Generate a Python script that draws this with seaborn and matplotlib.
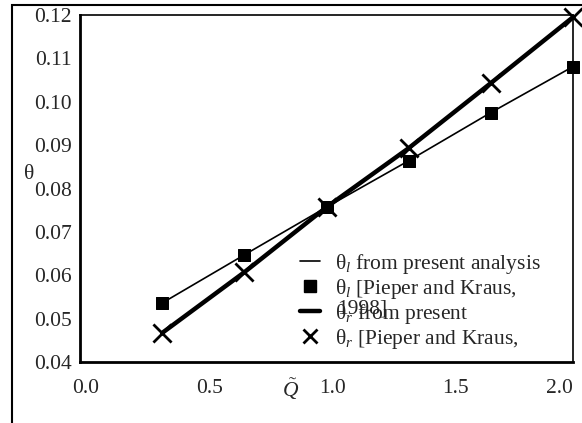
import matplotlib
matplotlib.use("Agg")
import matplotlib.pyplot as plt
import matplotlib.transforms as mtransforms
import seaborn as sns
import pandas as pd
from matplotlib.lines import Line2D
from matplotlib.patches import Rectangle

q_values = [1/3, 2/3, 1.0, 4/3, 5/3, 2.0]
theta_l_model = [0.0536, 0.0647, 0.0757, 0.0864, 0.0975, 0.1081]
theta_l_pieper = [0.0536, 0.0647, 0.0757, 0.0863, 0.0974, 0.1080]
theta_r_model = [0.0467, 0.0607, 0.0757, 0.0893, 0.1043, 0.1195]
theta_r_pieper = [0.0467, 0.0607, 0.0757, 0.0893, 0.1043, 0.1195]
x_ticks = [0.0, 0.5, 1.0, 1.5, 2.0]
y_ticks = [0.04, 0.05, 0.06, 0.07, 0.08, 0.09, 0.10, 0.11, 0.12]
labels = [r"θ$_{l}$ from present analysis",
          r"θ$_{l}$ [Pieper and Kraus,",
          r"θ$_{r}$ from present",
          r"θ$_{r}$ [Pieper and Kraus,"]

FS = 15.5

sns.set_style("white")
plt.rcParams["font.family"] = ["Liberation Serif", "DejaVu Serif"]
plt.rcParams["mathtext.fontset"] = "custom"
plt.rcParams["mathtext.rm"] = "Liberation Serif"
plt.rcParams["mathtext.it"] = "Liberation Serif:italic"

df = pd.DataFrame({"Q": q_values, "tl": theta_l_model, "tlp": theta_l_pieper,
                   "tr": theta_r_model, "trp": theta_r_pieper})

fig = plt.figure(figsize=(5.82, 4.23), dpi=100)
ax = fig.add_axes([80/582, 1-362/423, (573-80)/582, (362-15)/423])

sns.lineplot(data=df, x="Q", y="tl", ax=ax, color="black", lw=1.2)
sns.lineplot(data=df, x="Q", y="tr", ax=ax, color="black", lw=3.2)
sns.scatterplot(data=df, x="Q", y="tlp", ax=ax, marker="s", s=80, color="black",
                edgecolor="black", clip_on=False, zorder=5)
sns.scatterplot(data=df, x="Q", y="trp", ax=ax, marker="x", s=170, color="black",
                linewidth=2.0, clip_on=False, zorder=5)

ax.set_xlim(0, 2.0)
ax.set_ylim(0.04, 0.12)
ax.set_xticks(x_ticks)
ax.set_xticklabels([f"{v:.1f}" for v in x_ticks], fontsize=FS)
ax.set_yticks(y_ticks)
ax.set_yticklabels([f"{v:.2f}" for v in y_ticks], fontsize=FS)
ax.tick_params(axis="y", direction="out", length=4, width=1.5, pad=2)
ax.tick_params(axis="x", direction="in", length=4, width=1.5, pad=12)

shift = mtransforms.ScaledTranslation(6/100, 0, fig.dpi_scale_trans)
xlabels = ax.get_xticklabels()
for lab in xlabels[:-1]:
    lab.set_transform(lab.get_transform() + shift)
xlabels[-1].set_ha("right")

ax.set_xlabel(r"$\tilde{Q}$", fontsize=FS)
ax.xaxis.set_label_coords(0.428, -0.078)
ax.xaxis.label.set_va("center")
ax.set_ylabel("θ", fontsize=FS, rotation=0)
ax.yaxis.set_label_coords(-0.103, 0.54)
ax.yaxis.label.set_va("center")

for side in ["left", "bottom"]:
    ax.spines[side].set_linewidth(2.0)
for side in ["top", "right"]:
    ax.spines[side].set_linewidth(1.2)
for sp in ax.spines.values():
    sp.set_color("black")

handles = [Line2D([], [], color="black", lw=1.2),
           Line2D([], [], color="black", marker="s", ls="none", markersize=8),
           Line2D([], [], color="black", lw=3.2),
           Line2D([], [], color="black", marker="x", ls="none", markersize=10, mew=2)]
leg = ax.legend(handles, labels, loc="upper left", bbox_to_anchor=(0.446, 0.318),
                frameon=False, fontsize=FS, handlelength=0.93, handletextpad=0.7,
                labelspacing=0.05, borderaxespad=0, borderpad=0)
ax.text((337-80)/493, (362-309)/347, "1998]", transform=ax.transAxes, fontsize=FS,
        zorder=0, ha="left", va="center")

fig.add_artist(Rectangle((12/582, -0.05), 1.2, 1 - 5/423 + 0.05,
                         transform=fig.transFigure, fill=False, lw=1.5,
                         edgecolor="black"))

fig.savefig("out.png", dpi=100)
